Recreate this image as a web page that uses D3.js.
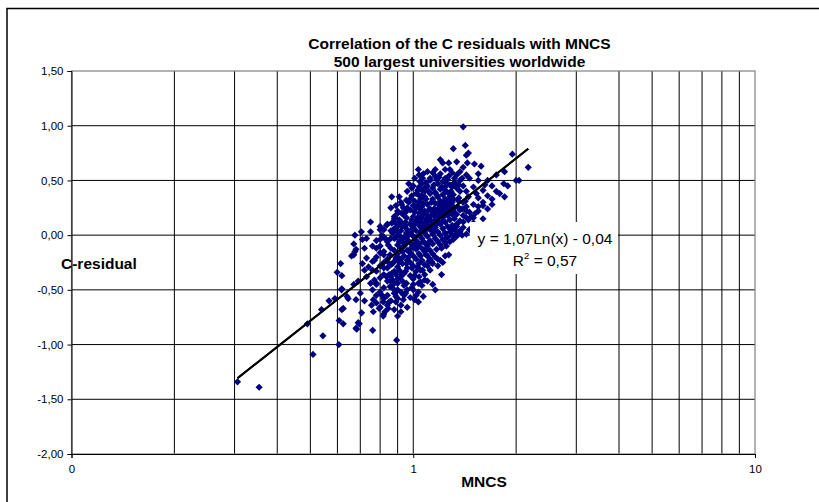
<!DOCTYPE html>
<html><head><meta charset="utf-8">
<script src="https://cdn.jsdelivr.net/npm/d3@7"></script>
<style>
body{margin:0;background:#fff;}
svg{display:block;font-family:"Liberation Sans",Arial,sans-serif;}
</style>
</head><body>
<svg id="chart" width="819" height="502"></svg>
<script>
// ---------- data ----------
const titleLines = ["Correlation of the C residuals with MNCS", "500 largest universities worldwide"];
const xLabel = "MNCS";
const yLabel = "C-residual";
const yTicks = [1.5, 1, 0.5, 0, -0.5, -1, -1.5, -2];
const xTicks = [0.1, 1, 10];
const xTickLabels = ["0", "1", "10"];
const xGridValues = [0.2,0.3,0.4,0.5,0.6,0.7,0.8,0.9,1,2,3,4,5,6,7,8,9];
const trendSlope = 1.07;
const trendIntercept = -0.04;
const trendR2 = 0.57;

// [MNCS, C-residual] — sparse outer points
const outerPoints = [
[0.306,-1.34],[0.354,-1.39],[0.49,-0.81],[0.509,-1.09],[0.544,-0.92],[0.539,-0.68],[0.567,-0.60],[0.59,-0.58],
[0.606,-1.00],[0.613,-0.26],[0.599,-0.34],[0.618,-0.37],[0.618,-0.49],[0.618,-0.68],[0.607,-0.78],[0.624,-0.81],
[0.66,-0.19],[0.675,-0.15],[0.617,-0.50],[0.645,-0.58],[0.683,-0.86],[0.695,-0.81],[0.706,-0.71],[0.761,-0.87],
[0.764,-0.70],[0.795,-0.67],[0.817,-0.74],[0.845,-0.67],[0.894,-0.96],[0.90,-0.74],[0.92,-0.70],[0.67,-0.45],
[0.69,-0.42],[0.70,-0.53],[0.72,-0.32],[0.73,-0.38],[0.75,-0.44],[0.76,-0.32],[0.77,-0.23],[0.78,-0.44],
[0.80,-0.39],[0.82,-0.30],[0.80,-0.16],[0.84,-0.24],[0.85,-0.36],[0.86,-0.42],[0.88,-0.50],[0.90,-0.44],
[0.91,-0.32],[0.93,-0.26],[0.95,-0.53],[0.89,-0.56],[0.85,-0.61],[0.81,-0.55],
[0.675,0.00],[0.75,0.03],[0.71,-0.04],[0.67,-0.08],[0.67,-0.18],[0.68,-0.13],[0.71,-0.26],[0.73,-0.21],
[0.74,-0.29],[0.76,-0.24],[0.77,-0.41],[0.80,-0.04],[0.81,0.00],[0.845,-0.09],[0.855,-0.18],[0.865,-0.35],
[0.88,-0.44],[0.89,-0.61],[0.935,-0.59],[0.925,-0.35],[0.955,-0.26],[0.98,-0.13],[1.01,-0.09],[1.05,-0.32],
[1.035,-0.44],[1.01,-0.59],[0.64,-0.56],[0.68,-0.59],[0.624,-0.67],[0.755,-0.64],[0.764,-0.59],[0.817,-0.61],
[0.826,-0.70],[0.69,-0.80],[0.68,-0.85],[0.955,-0.44],[0.99,-0.48],[1.035,-0.61],[1.07,-0.56],[0.90,-0.50],
[0.855,-0.47],[0.87,-0.41],[0.835,-0.38],[0.87,-0.26],[0.90,-0.20],[0.935,-0.07],[0.915,-0.01],[0.87,0.02],
[0.835,-0.04],[0.78,-0.12],[0.82,-0.18],[0.955,0.02],[1.06,-0.23],[1.08,-0.41],
[1.035,0.60],[0.865,0.35],[0.955,0.32],[0.925,0.28],[0.99,0.43],[1.045,0.49],[1.065,0.52],[0.865,0.11],
[0.88,0.17],[0.925,0.20],[0.955,0.16],[0.98,0.23],[1.01,0.31],[1.035,0.37],[1.02,0.25],[1.06,0.41],
[0.90,0.08],[0.945,0.09],[0.99,0.14],[1.045,0.17],[1.07,0.29],[1.08,0.35],
[0.75,0.12],[0.705,0.03],[0.73,-0.03],[0.80,0.08],[0.82,0.05],[0.835,0.09],[0.88,0.12],[0.90,0.20],
[0.935,0.25],[0.90,0.03],[0.945,0.08],
[1.40,0.99],[1.42,0.82],[1.31,0.79],[1.45,0.75],[1.43,0.73],[1.95,0.74],[2.17,0.62],[1.20,0.69],
[1.22,0.66],[1.27,0.66],[1.34,0.67],[1.44,0.66],[1.51,0.65],[1.58,0.63],[1.28,0.60],[1.37,0.58],
[1.43,0.55],[1.14,0.57],[1.17,0.51],[1.24,0.52],[1.32,0.52],[1.84,0.47],[1.89,0.45],[2.0,0.50],
[2.04,0.50],[1.79,0.38],[1.70,0.33],[1.62,0.46],[1.55,0.50],[1.60,0.27],[1.53,0.38],[1.55,0.26],
[1.45,0.35],[1.42,0.31],[1.37,0.40],[1.35,0.46],[1.43,0.22],[1.48,0.17],[1.52,0.20],[1.60,0.15],
[1.45,0.14],[1.50,0.11],[1.28,0.06],[1.34,0.08],[1.40,0.12],[1.35,0.26],[1.31,0.37],[1.30,0.44],
[1.24,0.41],[1.35,0.32],[1.16,0.60],[1.12,0.52],[1.08,0.43],
[1.43,0.01],[1.34,-0.01],[1.31,-0.04],[1.25,-0.10],[1.27,-0.18],[1.21,-0.12],[1.18,-0.22],[1.21,-0.36],
[1.16,-0.50],[1.12,-0.32],[1.14,-0.26],[1.09,-0.18],[1.11,-0.24],[1.17,-0.13],[1.24,-0.03],[1.28,0.03],
[1.37,0.03],[1.39,0.00],[1.05,-0.43],[1.035,-0.52],[1.13,-0.24],[1.20,-0.23],[1.24,-0.19],[1.0,-0.45],
[1.065,-0.32],[1.08,-0.27]
];

// dense core of the cloud, estimated column by column: [MNCS, residuals...]
const coreColumns = [
[0.78, -0.05,-0.20,-0.33,-0.45,-0.55,-0.62],
[0.80, 0.05,-0.10,-0.28,-0.52,-0.66],
[0.82, -0.02,-0.15,-0.25,-0.36,-0.48,-0.58,-0.72],
[0.84, 0.10,-0.06,-0.22,-0.30,-0.42,-0.55,-0.64],
[0.86, 0.04,-0.12,-0.27,-0.38,-0.47,-0.60],
[0.88, 0.15,0.06,-0.03,-0.14,-0.24,-0.33,-0.53,-0.68],
[0.90, 0.22,0.10,0.00,-0.09,-0.17,-0.29,-0.40,-0.58],
[0.92, 0.30,0.12,0.04,-0.05,-0.12,-0.22,-0.38,-0.52,-0.64],
[0.94, 0.18,-0.02,-0.10,-0.19,-0.35,-0.46,-0.55],
[0.96, 0.40,0.25,0.05,-0.04,-0.14,-0.23,-0.30,-0.50,-0.66],
[0.98, 0.33,0.10,0.02,-0.07,-0.16,-0.25,-0.37,-0.57],
[1.00, 0.45,0.27,0.17,0.07,-0.01,-0.10,-0.19,-0.28,-0.40,-0.50],
[1.02, 0.38,0.13,0.04,-0.05,-0.13,-0.22,-0.33,-0.55],
[1.04, 0.55,0.44,0.30,0.20,0.09,0.00,-0.08,-0.17,-0.26,-0.38],
[1.06, 0.47,0.36,0.26,0.15,0.06,-0.03,-0.12,-0.46],
[1.08, 0.40,0.22,0.11,0.02,-0.07,-0.15,-0.36],
[1.10, 0.58,0.45,0.28,0.18,0.09,-0.01,-0.10,-0.19,-0.28,-0.42],
[1.12, 0.50,0.38,0.24,0.14,0.05,-0.05,-0.14,-0.22],
[1.14, 0.43,0.33,0.20,0.10,0.01,-0.08,-0.17,-0.45],
[1.16, 0.54,0.39,0.29,0.17,0.07,-0.03,-0.20],
[1.18, 0.47,0.35,0.24,0.13,0.03,-0.06,-0.28],
[1.20, 0.56,0.42,0.31,0.20,0.10,0.00,-0.09],
[1.22, 0.49,0.37,0.26,0.16,0.06,-0.04,-0.25],
[1.24, 0.60,0.44,0.33,0.22,0.12,0.02,-0.07],
[1.26, 0.51,0.39,0.29,0.18,0.08,-0.02],
[1.28, 0.46,0.35,0.24,0.14,-0.06],
[1.30, 0.57,0.30,0.19,0.09,0.00],
[1.32, 0.48,0.25,0.15,0.05],
[1.34, 0.55,0.43,0.19,0.10,0.02],
[1.37, 0.50,0.23,0.13,0.04],
[1.40, 0.62,0.45,0.30,0.18,0.07],
[1.43, 0.40,0.26,0.16],
[1.46, 0.52,0.21,0.05],
[1.50, 0.44,0.28,0.16],
[1.55, 0.56,0.34,0.22],
[1.60, 0.41,0.30],
[1.65, 0.50,0.36,0.24],
[1.70, 0.45,0.28],
[1.75, 0.55,0.40],
[1.85, 0.58,0.35],
// additional filling of the densest band along the trend
[0.89, 0.27,-0.02,-0.21,-0.36],
[0.91, 0.14,0.35,-0.06,-0.25],
[0.93, 0.08,-0.15,-0.42],
[0.95, 0.12,0.21,-0.08,-0.33],
[0.97, 0.47,0.30,0.00,-0.20],
[0.99, 0.36,0.05,-0.11,-0.30],
[1.01, 0.52,0.21,0.10,-0.02,-0.37],
[1.03, 0.41,0.27,0.16,-0.10,-0.29],
[1.05, 0.33,0.23,0.12,0.03,-0.19],
[1.07, 0.56,0.19,0.08,-0.06],
[1.09, 0.48,0.33,0.15,0.05,-0.13],
[1.11, 0.40,0.23,0.13,-0.07],
[1.13, 0.30,0.18,0.08],
[1.15, 0.46,0.24,0.13,0.03],
[1.17, 0.37,0.21,0.10],
[1.19, 0.53,0.28,0.17],
[1.21, 0.44,0.23,0.12],
[1.23, 0.30,0.19],
[1.25, 0.47,0.26],
[1.27, 0.54,0.31,0.20],
[1.29, 0.40,0.28],
[1.31, 0.33,0.22],
[1.36, 0.46,0.34],
[1.39, 0.52,0.24],
[0.86, 0.25,-0.03],
[0.76, -0.10,-0.50],
[0.72, -0.12,-0.60]
];

// ---------- build ----------
const points = outerPoints.slice();
coreColumns.forEach(c => { for (let i = 1; i < c.length; i++) points.push([c[0], c[i]]); });

const locale = d3.formatLocale({decimal: ",", thousands: ".", grouping: [3], currency: ["", "€"], minus: "-"});
const f2 = locale.format(".2f");

const svg = d3.select("#chart");
const L = 71.5, R = 755, T = 71, B = 454;
const x = d3.scaleLog().domain([0.1, 10]).range([L, R]);
const y = d3.scaleLinear().domain([-2, 1.5]).range([B, T]);

// outer chart border
svg.append("rect").attr("x", 7).attr("y", 8.5).attr("width", 900).attr("height", 600)
  .attr("fill", "#fff").attr("stroke", "#000").attr("stroke-width", 1.5);

// gridlines
const grid = svg.append("g");
grid.selectAll("line.h").data(yTicks.filter(v => v > -2 && v < 1.5)).join("line")
  .attr("x1", L).attr("x2", R).attr("y1", d => y(d)).attr("y2", d => y(d))
  .attr("stroke", "#000").attr("stroke-width", 1);
grid.selectAll("line.v").data(xGridValues).join("line")
  .attr("y1", T).attr("y2", B).attr("x1", d => x(d)).attr("x2", d => x(d))
  .attr("stroke", "#000").attr("stroke-width", 1);

// plot area border
svg.append("rect").attr("x", L).attr("y", T).attr("width", R - L).attr("height", B - T)
  .attr("fill", "none").attr("stroke", "#808080").attr("stroke-width", 1.2);

// axes
const yAxis = svg.append("g").attr("transform", `translate(${L},0)`)
  .call(d3.axisLeft(y).tickValues(yTicks).tickSize(4).tickPadding(4).tickFormat(f2));
yAxis.select(".domain").attr("stroke", "#000");
yAxis.selectAll("text").attr("font-size", 11.5).attr("fill", "#000").attr("font-family", "Liberation Sans, Arial, sans-serif");

const xAxis = svg.append("g").attr("transform", `translate(0,${B})`)
  .call(d3.axisBottom(x).tickValues(xTicks).tickSize(4).tickPadding(7).tickFormat((d, i) => xTickLabels[i]));
xAxis.select(".domain").attr("stroke", "#000");
xAxis.selectAll("text").attr("font-size", 11.5).attr("fill", "#000").attr("font-family", "Liberation Sans, Arial, sans-serif");

// trendline across the data range
const xs = points.map(p => p[0]);
const xmin = d3.min(xs), xmax = d3.max(xs);
const trend = [xmin, xmax].map(v => [v, trendSlope * Math.log(v) + trendIntercept]);
svg.append("path").attr("d", d3.line().x(d => x(d[0])).y(d => y(d[1]))(trend))
  .attr("stroke", "#000").attr("stroke-width", 2).attr("fill", "none");

// markers
const r = 3.6;
svg.append("g").selectAll("path").data(points).join("path")
  .attr("transform", d => `translate(${x(d[0])},${y(d[1])})`)
  .attr("d", `M0,${-r}L${r},0L0,${r}L${-r},0Z`)
  .attr("fill", "#000080");

// redraw trendline on top of markers (as in the reference)
svg.append("path").attr("d", d3.line().x(d => x(d[0])).y(d => y(d[1]))(trend))
  .attr("stroke", "#000").attr("stroke-width", 2).attr("fill", "none");

// trend label
svg.append("rect").attr("x", 470).attr("y", 222).attr("width", 148).attr("height", 52).attr("fill", "#fff");
svg.append("text").attr("x", 545).attr("y", 243.5).attr("text-anchor", "middle")
  .attr("font-size", 15.5).attr("fill", "#000")
  .text(`y = ${f2(trendSlope)}Ln(x) - ${f2(-trendIntercept)}`);
const r2t = svg.append("text").attr("x", 545).attr("y", 265.5).attr("text-anchor", "middle")
  .attr("font-size", 15.5).attr("fill", "#000");
r2t.append("tspan").text("R");
r2t.append("tspan").attr("font-size", 9.5).attr("dy", -6.5).text("2");
r2t.append("tspan").attr("dy", 6.5).text(` = ${f2(trendR2)}`);

// title
svg.append("g").selectAll("text").data(titleLines).join("text")
  .attr("x", 459.5).attr("y", (d, i) => 49 + i * 17.7).attr("text-anchor", "middle")
  .attr("font-size", 15.5).attr("font-weight", "bold").attr("fill", "#000").text(d => d);

// axis titles
svg.append("text").attr("x", 61).attr("y", 269).attr("font-size", 15.5).attr("font-weight", "bold")
  .attr("fill", "#000").text(yLabel);
svg.append("text").attr("x", 484).attr("y", 487).attr("text-anchor", "middle").attr("font-size", 15.5)
  .attr("font-weight", "bold").attr("fill", "#000").text(xLabel);
</script>
</body></html>
